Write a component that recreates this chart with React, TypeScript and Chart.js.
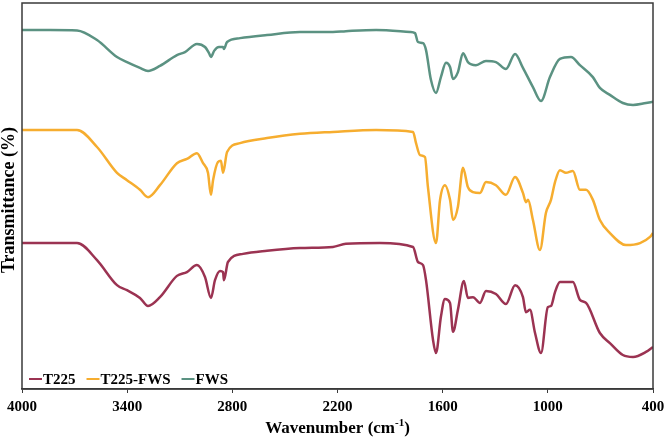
import React, { useEffect, useRef } from "react";
import { Chart, registerables } from "chart.js";

Chart.register(...registerables);

// FTIR spectra, wavenumber (cm-1) vs. offset transmittance
const t225Wavenumber = [4000, 3686, 3572, 3458, 3401, 3327, 3281, 3213, 3116, 3059, 3002, 2956, 2922, 2899, 2870, 2853, 2848, 2825, 2739, 2602, 2414, 2226, 2152, 1958, 1769, 1741, 1712, 1695, 1655, 1638, 1610, 1587, 1558, 1541, 1513, 1479, 1456, 1427, 1387, 1353, 1296, 1239, 1187, 1142, 1125, 1102, 1073, 1039, 1000, 982, 959, 931, 857, 817, 782, 703, 646, 572, 514, 440, 400];
const t225Values = [37.8, 37.8, 33.4, 26.9, 25.6, 23.6, 21.5, 23.8, 29.3, 30.3, 32.1, 29.0, 23.6, 28.2, 30.6, 30.3, 28.2, 32.9, 35.0, 35.8, 36.5, 36.8, 37.6, 37.8, 36.8, 32.9, 32.1, 28.2, 12.7, 9.3, 18.7, 23.3, 22.3, 14.8, 20.5, 28.0, 23.6, 23.8, 22.3, 25.4, 24.6, 22.0, 26.9, 23.8, 19.9, 20.5, 14.5, 9.3, 21.2, 21.5, 25.1, 27.7, 27.7, 23.1, 22.3, 14.5, 11.9, 8.8, 8.3, 9.6, 10.9];

const t225FwsWavenumber = [4000, 3686, 3572, 3458, 3401, 3327, 3281, 3213, 3116, 3059, 3002, 2967, 2939, 2922, 2910, 2882, 2865, 2853, 2830, 2756, 2602, 2414, 2226, 1980, 1769, 1752, 1729, 1701, 1684, 1638, 1615, 1587, 1558, 1541, 1513, 1484, 1456, 1427, 1387, 1353, 1296, 1239, 1187, 1142, 1125, 1113, 1085, 1045, 1011, 982, 959, 931, 897, 857, 817, 782, 743, 703, 646, 554, 474, 417, 400];
const t225FwsValues = [67.1, 67.1, 62.7, 56.0, 54.1, 51.6, 49.7, 52.8, 58.5, 59.6, 61.1, 58.5, 56.0, 50.3, 54.1, 58.8, 59.1, 56.0, 61.4, 63.7, 65.0, 66.1, 66.6, 67.1, 66.6, 63.7, 60.6, 60.1, 52.3, 37.8, 49.0, 52.8, 49.0, 43.8, 47.2, 57.3, 52.3, 51.0, 50.8, 53.6, 52.8, 50.3, 54.9, 50.8, 48.4, 49.0, 43.8, 36.0, 45.6, 49.0, 53.6, 56.7, 56.0, 56.5, 51.6, 51.6, 49.0, 43.8, 40.4, 37.3, 37.8, 39.4, 40.4];

const fwsWavenumber = [4000, 3840, 3686, 3572, 3458, 3401, 3327, 3281, 3213, 3116, 3070, 3002, 2956, 2933, 2922, 2904, 2876, 2853, 2848, 2830, 2756, 2602, 2414, 2226, 2152, 1980, 1786, 1758, 1741, 1712, 1695, 1667, 1638, 1610, 1581, 1558, 1541, 1513, 1484, 1456, 1410, 1353, 1296, 1239, 1187, 1142, 1085, 1039, 988, 931, 868, 817, 743, 703, 646, 572, 514, 440, 400];
const fwsValues = [93.0, 93.0, 92.9, 90.4, 86.0, 84.7, 83.2, 82.4, 83.7, 86.5, 87.3, 89.4, 88.6, 87.0, 86.0, 87.6, 88.6, 88.6, 88.1, 89.9, 90.9, 91.7, 92.5, 92.5, 92.7, 93.0, 92.5, 92.2, 89.9, 89.6, 87.8, 80.1, 76.7, 80.8, 84.5, 83.4, 80.3, 82.1, 87.0, 84.7, 83.9, 85.0, 84.7, 82.9, 86.8, 83.2, 78.2, 74.6, 80.8, 85.5, 86.0, 83.9, 80.8, 78.0, 76.2, 74.1, 73.6, 74.1, 74.4];

const seriesLabels = ["T225", "T225-FWS", "FWS"];
const seriesColors = ["#9b3352", "#f6ad2f", "#5b9282"];
const xTickValues = [4000, 3400, 2800, 2200, 1600, 1000, 400];

const pairs = (xs: number[], ys: number[]) => xs.map((x, i) => ({ x, y: ys[i] }));

const SERIF = "'Liberation Serif', 'Times New Roman', serif";

const decorations = {
  id: "decorations",
  afterDraw(chart: any) {
    const { ctx, chartArea } = chart;
    const { left, right, top, bottom } = chartArea;
    ctx.save();

    // frame around the plot area
    ctx.strokeStyle = "#3a3a3a";
    ctx.lineWidth = 1.5;
    ctx.strokeRect(left, top, right - left, bottom - top);

    // y axis title
    ctx.fillStyle = "#000";
    ctx.font = `bold 18px ${SERIF}`;
    ctx.textAlign = "center";
    ctx.textBaseline = "middle";
    ctx.save();
    ctx.translate(9, 200);
    ctx.rotate(-Math.PI / 2);
    ctx.fillText("Transmittance (%)", 0, 0);
    ctx.restore();

    // x axis title with superscript
    const main = "Wavenumber (cm";
    const sup = "-1";
    const close = ")";
    ctx.font = `bold 17px ${SERIF}`;
    const wMain = ctx.measureText(main).width;
    const wClose = ctx.measureText(close).width;
    ctx.font = `bold 11px ${SERIF}`;
    const wSup = ctx.measureText(sup).width;
    const total = wMain + wSup + wClose;
    const x0 = (left + right) / 2 - total / 2;
    const base = 433;
    ctx.textAlign = "left";
    ctx.textBaseline = "alphabetic";
    ctx.font = `bold 17px ${SERIF}`;
    ctx.fillText(main, x0, base);
    ctx.font = `bold 11px ${SERIF}`;
    ctx.fillText(sup, x0 + wMain, base - 7);
    ctx.font = `bold 17px ${SERIF}`;
    ctx.fillText(close, x0 + wMain + wSup, base);

    // legend inside the plot, lower left
    ctx.font = `bold 15px ${SERIF}`;
    ctx.textBaseline = "middle";
    let lx = left + 7;
    const ly = 379;
    chart.data.datasets.forEach((ds: any) => {
      ctx.strokeStyle = ds.borderColor;
      ctx.lineWidth = 2;
      ctx.beginPath();
      ctx.moveTo(lx, ly);
      ctx.lineTo(lx + 13, ly);
      ctx.stroke();
      ctx.fillStyle = "#000";
      ctx.fillText(ds.label, lx + 14, ly + 1);
      lx += 14 + ctx.measureText(ds.label).width + 11;
    });

    ctx.restore();
  },
};

export default function App() {
  const canvasRef = useRef<HTMLCanvasElement | null>(null);

  useEffect(() => {
    const canvas = canvasRef.current;
    if (!canvas) return;
    const chart = new Chart(canvas, {
      type: "line",
      data: {
        datasets: [
          { label: seriesLabels[0], data: pairs(t225Wavenumber, t225Values), borderColor: seriesColors[0] },
          { label: seriesLabels[1], data: pairs(t225FwsWavenumber, t225FwsValues), borderColor: seriesColors[1] },
          { label: seriesLabels[2], data: pairs(fwsWavenumber, fwsValues), borderColor: seriesColors[2] },
        ].map((d) => ({
          ...d,
          borderWidth: 2.5,
          pointRadius: 0,
          fill: false,
          cubicInterpolationMode: "monotone" as const,
        })),
      },
      options: {
        animation: false,
        responsive: false,
        maintainAspectRatio: false,
        layout: { padding: { top: 3, right: 13, left: 0, bottom: 0 } },
        plugins: { legend: { display: false }, tooltip: { enabled: false } },
        scales: {
          x: {
            type: "linear",
            reverse: true,
            min: 400,
            max: 4000,
            afterFit: (s: any) => {
              s.height = 49;
              s.paddingLeft = 0;
              s.paddingRight = 0;
            },
            afterBuildTicks: (s: any) => {
              s.ticks = xTickValues.map((v) => ({ value: v }));
            },
            border: { display: true, color: "#3a3a3a", width: 1.5 },
            grid: { drawOnChartArea: false, drawTicks: true, tickLength: 4, color: "#3a3a3a" },
            ticks: {
              color: "#000",
              font: { family: SERIF, size: 15, weight: "bold" },
              padding: 5,
              maxRotation: 0,
              autoSkip: false,
              callback: (v: any) => String(v),
            },
          },
          y: {
            min: 0,
            max: 100,
            afterFit: (s: any) => {
              s.width = 22;
            },
            border: { display: false },
            grid: { display: false },
            ticks: { display: false },
          },
        },
      },
      plugins: [decorations],
    });
    return () => chart.destroy();
  }, []);

  return (
    <div style={{ position: "fixed", left: 0, top: 0, width: 666, height: 438, background: "#fff" }}>
      <canvas ref={canvasRef} width={666} height={438} style={{ width: 666, height: 438 }} />
    </div>
  );
}
